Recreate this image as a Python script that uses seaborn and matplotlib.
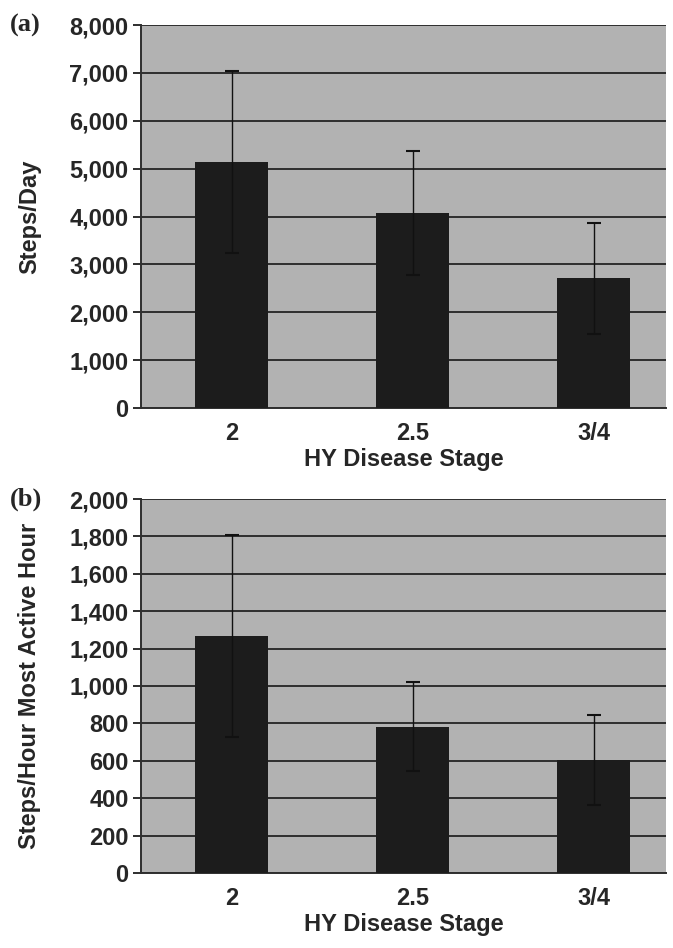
import matplotlib
matplotlib.use("Agg")
import matplotlib.pyplot as plt
import seaborn as sns
import pandas as pd
from matplotlib.ticker import FuncFormatter, FixedLocator

# === Data
stages = ["2", "2.5", "3/4"]
steps_day = [5140, 4075, 2710]
steps_day_sd = [1905, 1295, 1160]
steps_hour = [1265, 783, 603]
steps_hour_sd = [540, 238, 240]

BG = "#b2b2b2"
BAR = "#1c1c1c"
LINE = "#2e2e2e"

sns.set_theme(style="white")
plt.rcParams["font.family"] = ["Liberation Sans", "DejaVu Sans"]

fig = plt.figure(figsize=(6.73, 9.48), dpi=100)
W, H = 673, 948
LEFT, RIGHT = 141, 666


def make_ax(top, bottom):
    return fig.add_axes([LEFT / W, 1 - bottom / H, (RIGHT - LEFT) / W, (bottom - top) / H])


def panel(ax, values, sds, ymax, ystep, ylabel, letter):
    df = pd.DataFrame({"stage": stages, "value": values})
    sns.barplot(data=df, x="stage", y="value", order=stages, color=BAR,
                saturation=1, width=0.40, errorbar=None, ax=ax, zorder=3,
                edgecolor=BAR, linewidth=0)
    ax.errorbar(range(len(stages)), values, yerr=sds, fmt="none", ecolor="#111111",
                elinewidth=1.0, capsize=5, capthick=1.5, zorder=4)
    ax.set_facecolor(BG)
    ax.set_xlim(-0.5, 2.40)
    ax.set_ylim(0, ymax)
    ax.set_yticks(list(range(0, ymax + 1, ystep)))
    ax.yaxis.set_major_formatter(FuncFormatter(lambda v, p: f"{int(v):,}"))
    ax.yaxis.grid(True, color=LINE, linewidth=1.4, zorder=1)
    ax.set_axisbelow(True)
    for s in ["top", "right"]:
        ax.spines[s].set_visible(False)
    for s in ["left", "bottom"]:
        ax.spines[s].set_color(LINE)
        ax.spines[s].set_linewidth(1.4)
    # ticks at category boundaries, labels centred without ticks
    ax.xaxis.set_minor_locator(FixedLocator([-0.5, 0.5, 1.5]))
    ax.tick_params(axis="x", which="major", length=0, pad=10, labelsize=17)
    ax.tick_params(axis="x", which="minor", length=6, width=1.4, color=LINE, direction="out")
    ax.tick_params(axis="y", length=6, width=1.4, color=LINE, direction="out",
                   left=True, labelsize=17, pad=3)
    for lab in ax.get_xticklabels() + ax.get_yticklabels():
        lab.set_fontweight("bold")
    ax.set_xlabel("HY Disease Stage", fontsize=17, fontweight="bold", labelpad=2)
    ax.set_ylabel(ylabel, fontsize=17, fontweight="bold")
    ax.yaxis.set_label_coords((41 - LEFT) / (RIGHT - LEFT), 0.5)
    ax.text((10 - LEFT) / (RIGHT - LEFT), 1.0, letter, transform=ax.transAxes, fontsize=19,
            fontweight="bold", family=["Liberation Serif", "DejaVu Serif"],
            va="center", ha="left")


ax1 = make_ax(25, 408)
panel(ax1, steps_day, steps_day_sd, 8000, 1000, "Steps/Day", "(a)")
ax2 = make_ax(499, 873)
panel(ax2, steps_hour, steps_hour_sd, 2000, 200, "Steps/Hour Most Active Hour", "(b)")

fig.savefig("out.png", dpi=100)
